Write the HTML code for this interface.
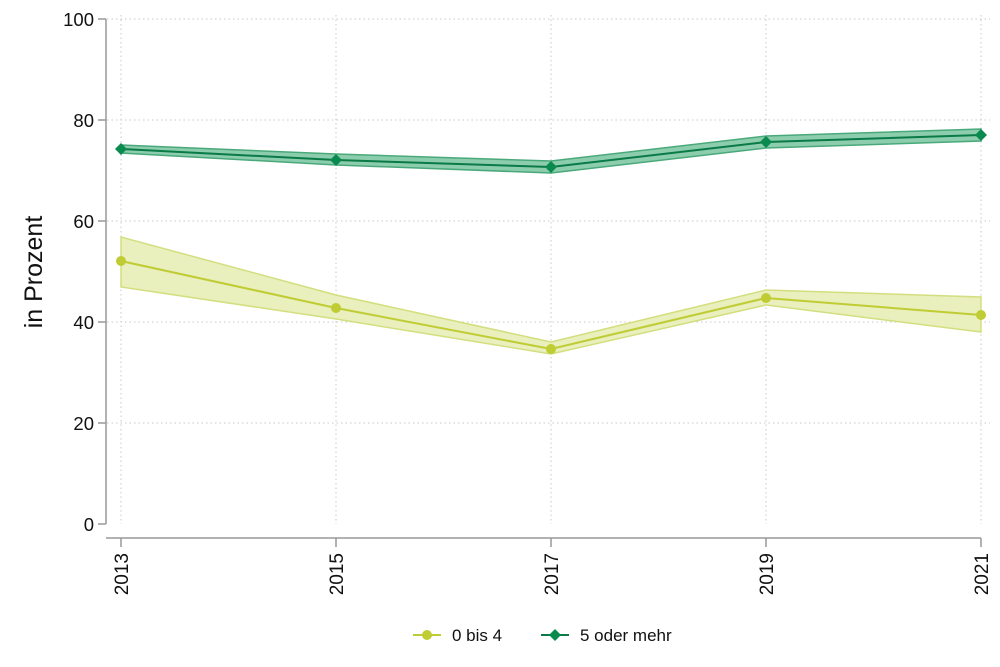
<!DOCTYPE html>
<html><head><meta charset="utf-8"><style>body{margin:0;background:#fff}svg{display:block}text{font-family:"Liberation Sans",sans-serif;fill:#111}</style></head><body>
<svg width="1000" height="667" viewBox="0 0 1000 667" xmlns="http://www.w3.org/2000/svg">
<g stroke="#c8c8c8" stroke-width="1" stroke-dasharray="1.5,3">
<line x1="107" x2="990" y1="19" y2="19"/><line x1="107" x2="990" y1="120" y2="120"/><line x1="107" x2="990" y1="221" y2="221"/><line x1="107" x2="990" y1="322" y2="322"/><line x1="107" x2="990" y1="423" y2="423"/>
<line x1="121" x2="121" y1="15" y2="524"/><line x1="336" x2="336" y1="15" y2="524"/><line x1="551" x2="551" y1="15" y2="524"/><line x1="766" x2="766" y1="15" y2="524"/><line x1="981" x2="981" y1="15" y2="524"/>
</g>
<g stroke="#999" stroke-width="1.5">
<line x1="106" x2="106" y1="19" y2="524"/><line x1="106" x2="981" y1="538" y2="538"/>
<line x1="98" x2="106" y1="19" y2="19"/><line x1="98" x2="106" y1="120" y2="120"/><line x1="98" x2="106" y1="221" y2="221"/><line x1="98" x2="106" y1="322" y2="322"/><line x1="98" x2="106" y1="423" y2="423"/><line x1="98" x2="106" y1="524" y2="524"/>
<line x1="121" x2="121" y1="538" y2="547"/><line x1="336" x2="336" y1="538" y2="547"/><line x1="551" x2="551" y1="538" y2="547"/><line x1="766" x2="766" y1="538" y2="547"/><line x1="981" x2="981" y1="538" y2="547"/>
</g>
<g font-size="18.5" text-anchor="end">
<text x="94" y="26">100</text><text x="94" y="127">80</text><text x="94" y="228">60</text><text x="94" y="329">40</text><text x="94" y="430">20</text><text x="94" y="531">0</text>
</g>
<g font-size="19" text-anchor="end">
<text transform="translate(128,553) rotate(-90)">2013</text><text transform="translate(343,553) rotate(-90)">2015</text><text transform="translate(558,553) rotate(-90)">2017</text><text transform="translate(773,553) rotate(-90)">2019</text><text transform="translate(988,553) rotate(-90)">2021</text>
</g>
<text transform="translate(42,272) rotate(-90)" font-size="25" text-anchor="middle">in Prozent</text>
<polygon points="121,237 336,295 551,342 766,290 981,297 981,332 766,305 551,354 336,319 121,287" fill="#e9efbd" stroke="#d3df7e" stroke-width="1.5"/>
<polyline points="121,261 336,308 551,349 766,298 981,315" fill="none" stroke="#bfcc34" stroke-width="2"/>
<g fill="#bfcc34"><circle cx="121" cy="261" r="5"/><circle cx="336" cy="308" r="5"/><circle cx="551" cy="349" r="5"/><circle cx="766" cy="298" r="5"/><circle cx="981" cy="315" r="5"/></g>
<polygon points="121,145 336,154 551,161 766,136 981,129 981,141 766,148 551,173 336,165 121,153" fill="#8ccdae" stroke="#4aa97a" stroke-width="1.5"/>
<polyline points="121,149 336,160 551,167 766,142 981,135" fill="none" stroke="#0a7a47" stroke-width="2"/>
<g fill="#0a8a4f"><path d="M121,143 l6,6 -6,6 -6,-6z"/><path d="M336,154 l6,6 -6,6 -6,-6z"/><path d="M551,161 l6,6 -6,6 -6,-6z"/><path d="M766,136 l6,6 -6,6 -6,-6z"/><path d="M981,129 l6,6 -6,6 -6,-6z"/></g>
<line x1="413" x2="441" y1="635" y2="635" stroke="#bfcc34" stroke-width="2"/><circle cx="427" cy="635" r="5" fill="#bfcc34"/>
<text x="452" y="641" font-size="17">0 bis 4</text>
<line x1="541" x2="569" y1="635" y2="635" stroke="#0a7a47" stroke-width="2"/><path d="M555,629 l6,6 -6,6 -6,-6z" fill="#0a8a4f"/>
<text x="580" y="641" font-size="17">5 oder mehr</text>
</svg>
</body></html>
